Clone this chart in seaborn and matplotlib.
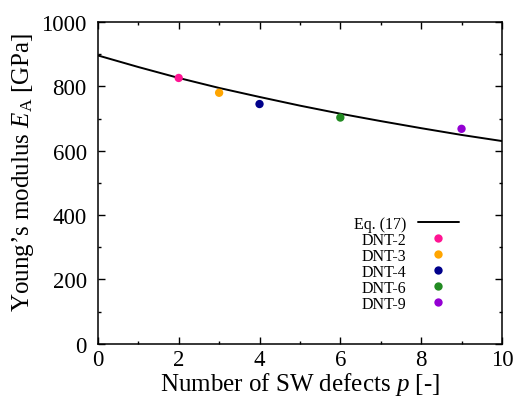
import numpy as np
import pandas as pd
import matplotlib
matplotlib.use("Agg")
import matplotlib.pyplot as plt
import seaborn as sns
from matplotlib.ticker import MultipleLocator

# --- DATA ---
curve_p = [0, 1, 2, 3, 4, 5, 6, 7, 8, 9, 10]
curve_E = [896, 860, 826, 795, 767, 740, 715, 692, 670, 649, 630]

dnt_labels = ["DNT-2", "DNT-3", "DNT-4", "DNT-6", "DNT-9"]
dnt_p = [2, 3, 4, 6, 9]
dnt_E = [826, 780, 745, 703, 668]
dnt_colors = ["#FF1493", "#FFA500", "#00008B", "#228B22", "#9400D3"]

sns.set_theme(style="ticks")
plt.rcParams['font.family'] = ['Liberation Serif', 'DejaVu Serif']
plt.rcParams['mathtext.fontset'] = 'custom'
plt.rcParams['mathtext.rm'] = 'Liberation Serif'
plt.rcParams['mathtext.it'] = 'Liberation Serif:italic'
for k in ['text.color', 'axes.labelcolor', 'xtick.color', 'ytick.color', 'axes.edgecolor']:
    plt.rcParams[k] = 'black'

fig = plt.figure(figsize=(5.18, 4.10), dpi=100)
ax = fig.add_axes([0.189, 0.159, 0.780, 0.785])

curve_df = pd.DataFrame({'p': curve_p, 'E': curve_E})
sns.lineplot(data=curve_df, x='p', y='E', ax=ax, color='black', lw=1.4, label='Eq. (17)')

dnt_df = pd.DataFrame({'p': dnt_p, 'E': dnt_E, 'name': dnt_labels})
sns.scatterplot(data=dnt_df, x='p', y='E', hue='name', hue_order=dnt_labels,
                palette=dnt_colors, s=36, edgecolor='none', ax=ax, zorder=3)

ax.set_xlim(0, 10)
ax.set_ylim(0, 1000)
ax.xaxis.set_major_locator(MultipleLocator(2))
ax.xaxis.set_minor_locator(MultipleLocator(1))
ax.yaxis.set_major_locator(MultipleLocator(200))
ax.yaxis.set_minor_locator(MultipleLocator(100))
ax.tick_params(which='both', direction='in', top=True, right=True, labelsize=16.5, width=1)
ax.tick_params(which='major', length=5)
ax.tick_params(which='minor', length=2.5)
ax.tick_params(axis='x', which='major', pad=4)
ax.tick_params(axis='y', which='major', pad=8)
for s in ax.spines.values():
    s.set_linewidth(1.1)

ax.set_xlabel('Number of SW defects $p$ [-]', fontsize=18, labelpad=0)
ax.set_ylabel('Young\u2019s modulus $E_\\mathrm{A}$ [GPa]', fontsize=18)
ax.yaxis.set_label_coords(-0.153, 0.537)

ax.legend(loc='lower right', bbox_to_anchor=(0.894, 0.10), frameon=False, markerfirst=False,
          fontsize=11.5, handlelength=2.6, handletextpad=0.7, labelspacing=0.0,
          borderaxespad=0, borderpad=0)

fig.savefig('out.png', dpi=100)
